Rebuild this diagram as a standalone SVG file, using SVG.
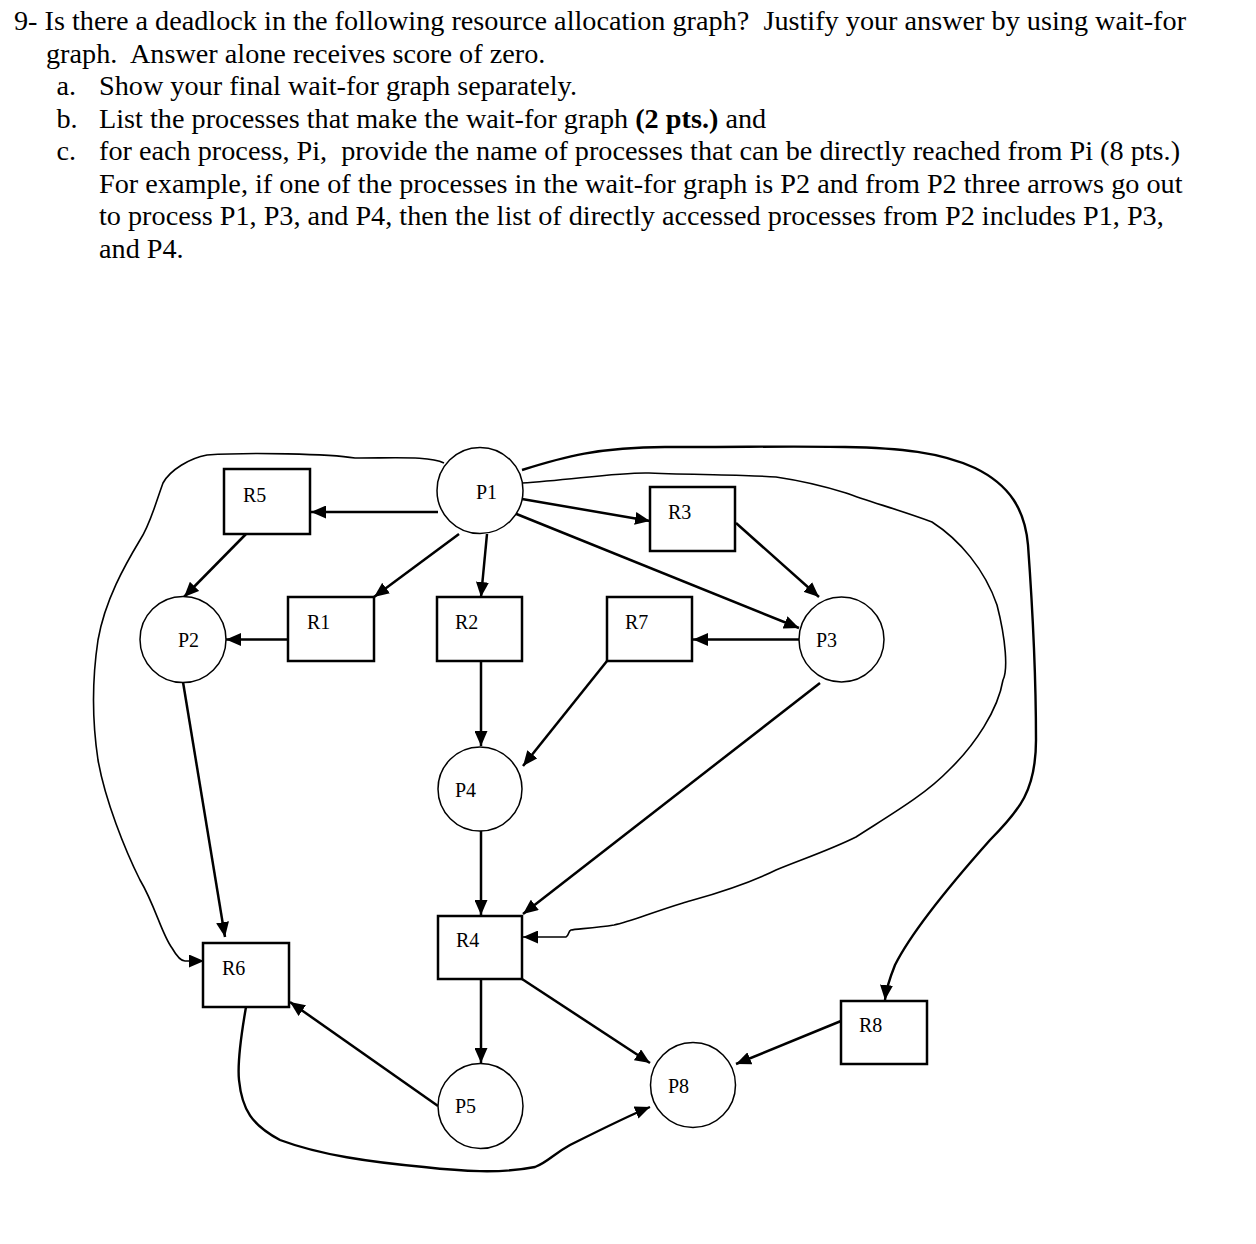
<svg xmlns="http://www.w3.org/2000/svg" width="1256" height="1244" viewBox="0 0 1256 1244">
<style>
.q{font-family:"Liberation Serif","Times New Roman",serif;font-size:26.7px;fill:#000;white-space:pre}
.lbl{font-family:"Liberation Serif","Times New Roman",serif;font-size:20px;fill:#000}
.box{fill:#fff;stroke:#000;stroke-width:2.5}
.circ{fill:#fff;stroke:#000;stroke-width:1.5}
.e{fill:none;stroke:#000;stroke-width:2.5;marker-end:url(#ah)}
.h{fill:none;stroke:#000;stroke-width:1.6;marker-end:url(#ah)}
.hb{fill:none;stroke:#000;stroke-width:2.4;marker-end:url(#ah)}
</style>
<defs>
<marker id="ah" markerUnits="userSpaceOnUse" markerWidth="15" markerHeight="13" refX="15" refY="6.5" orient="auto">
<path d="M0,0 L15,6.5 L0,13 z" fill="#000"/>
</marker>
</defs>
<rect width="1256" height="1244" fill="#fff"/>
<g id="question" transform="matrix(1.058 0 0 1 0 0)">
<text class="q" x="13.23" y="30.5">9- Is there a deadlock in the following resource allocation graph?  Justify your answer by using wait-for</text>
<text class="q" x="43.48" y="63">graph.  Answer alone receives score of zero.</text>
<text class="q" x="53.4" y="95.5">a.</text>
<text class="q" x="93.57" y="95.5">Show your final wait-for graph separately.</text>
<text class="q" x="53.4" y="128">b.</text>
<text class="q" x="93.57" y="128">List the processes that make the wait-for graph <tspan font-weight="bold">(2 pts.)</tspan> and</text>
<text class="q" x="53.4" y="160.5">c.</text>
<text class="q" x="93.57" y="160.5">for each process, Pi,  provide the name of processes that can be directly reached from Pi (8 pts.)</text>
<text class="q" x="93.57" y="193">For example, if one of the processes in the wait-for graph is P2 and from P2 three arrows go out</text>
<text class="q" x="93.57" y="225.5">to process P1, P3, and P4, then the list of directly accessed processes from P2 includes P1, P3,</text>
<text class="q" x="93.57" y="258">and P4.</text>
</g>
<g id="connectors">
<line class="e" x1="438" y1="512" x2="311" y2="512"/>
<line class="e" x1="246" y1="534" x2="184" y2="597"/>
<line class="e" x1="459" y1="534" x2="374" y2="597"/>
<line class="e" x1="487" y1="534" x2="481" y2="597"/>
<line class="e" x1="288" y1="639.5" x2="226" y2="639.5"/>
<line class="e" x1="522" y1="499" x2="650" y2="521"/>
<line class="e" x1="514" y1="513" x2="799" y2="628"/>
<line class="e" x1="736" y1="523" x2="819" y2="597"/>
<line class="e" x1="799" y1="639.5" x2="693" y2="639.5"/>
<line class="e" x1="481" y1="661" x2="481" y2="746"/>
<line class="e" x1="607" y1="661" x2="523" y2="766"/>
<line class="e" x1="481" y1="831" x2="481" y2="915"/>
<line class="e" x1="820" y1="683" x2="523" y2="914"/>
<line class="e" x1="481" y1="979" x2="481" y2="1063"/>
<line class="e" x1="522" y1="979" x2="650" y2="1063"/>
<line class="e" x1="841" y1="1021" x2="736" y2="1064"/>
<line class="e" x1="438" y1="1106" x2="290" y2="1002"/>
<line class="e" x1="183" y1="682" x2="225" y2="937"/>
<path class="hb" d="M246,1007 C242,1030 237,1060 239,1080 C242,1110 252,1125 280,1140 C320,1155 370,1162 424,1167 C460,1171 500,1174 535,1167 C548,1162 552,1155 570,1145 C600,1130 630,1115 650,1107"/>
<path class="h" d="M444,463 C430,456 400,458 355,458 C330,454 250,452 207,455 C190,458 170,470 163,483 C155,505 150,525 140,540 C125,565 105,600 98,640 C92,680 92,720 98,760 C105,800 125,850 140,880 C155,905 162,935 172,948 C176,955 180,961 185,961 L204,961"/>
<path class="hb" d="M522,470 C560,458 600,446 673,447 C750,447 800,446 845,447 C900,448 940,452 975,468 C1010,485 1025,510 1028,545 C1032,600 1036,680 1036,740 C1036,790 1020,810 990,840 C950,885 910,935 895,965 C889,980 886,990 885,1000"/>
<path class="h" d="M522,483 C570,480 620,472 649,473 C700,475 750,475 776,477 C810,482 830,488 846,493 C870,502 900,510 932,522 C960,540 985,570 997,605 C1006,640 1008,670 1003,680 C998,710 975,745 949,770 C925,795 890,815 856,837 C830,850 800,860 776,870 C740,888 700,898 683,903 C650,913 630,922 614,925 C595,928 575,929 571,930 C568,931 569,936 566,937 L523,937"/>
</g>
<g id="P1"><circle class="circ" cx="480" cy="490.5" r="43"/><text class="lbl" x="476" y="499">P1</text></g>
<g id="R5"><rect class="box" x="224" y="469" width="86" height="65"/><text class="lbl" x="243" y="502">R5</text></g>
<g id="P2"><circle class="circ" cx="183" cy="639.5" r="43"/><text class="lbl" x="178" y="647">P2</text></g>
<g id="R1"><rect class="box" x="288" y="597" width="86" height="64"/><text class="lbl" x="307" y="629">R1</text></g>
<g id="R2"><rect class="box" x="437" y="597" width="85" height="64"/><text class="lbl" x="455" y="629">R2</text></g>
<g id="R3"><rect class="box" x="650" y="487" width="85" height="64"/><text class="lbl" x="668" y="519">R3</text></g>
<g id="R7"><rect class="box" x="607" y="597" width="85" height="64"/><text class="lbl" x="625" y="629">R7</text></g>
<g id="P3"><circle class="circ" cx="841.5" cy="639.5" r="42.5"/><text class="lbl" x="816" y="647">P3</text></g>
<g id="P4"><circle class="circ" cx="480" cy="789" r="42"/><text class="lbl" x="455" y="797">P4</text></g>
<g id="R4"><rect class="box" x="438" y="916" width="84" height="63"/><text class="lbl" x="456" y="947">R4</text></g>
<g id="R6"><rect class="box" x="203" y="943" width="86" height="64"/><text class="lbl" x="222" y="975">R6</text></g>
<g id="P5"><circle class="circ" cx="480.5" cy="1106" r="42.5"/><text class="lbl" x="455" y="1113">P5</text></g>
<g id="P8"><circle class="circ" cx="693" cy="1085" r="42.5"/><text class="lbl" x="668" y="1093">P8</text></g>
<g id="R8"><rect class="box" x="841" y="1001" width="86" height="63"/><text class="lbl" x="859" y="1032">R8</text></g>
</svg>
